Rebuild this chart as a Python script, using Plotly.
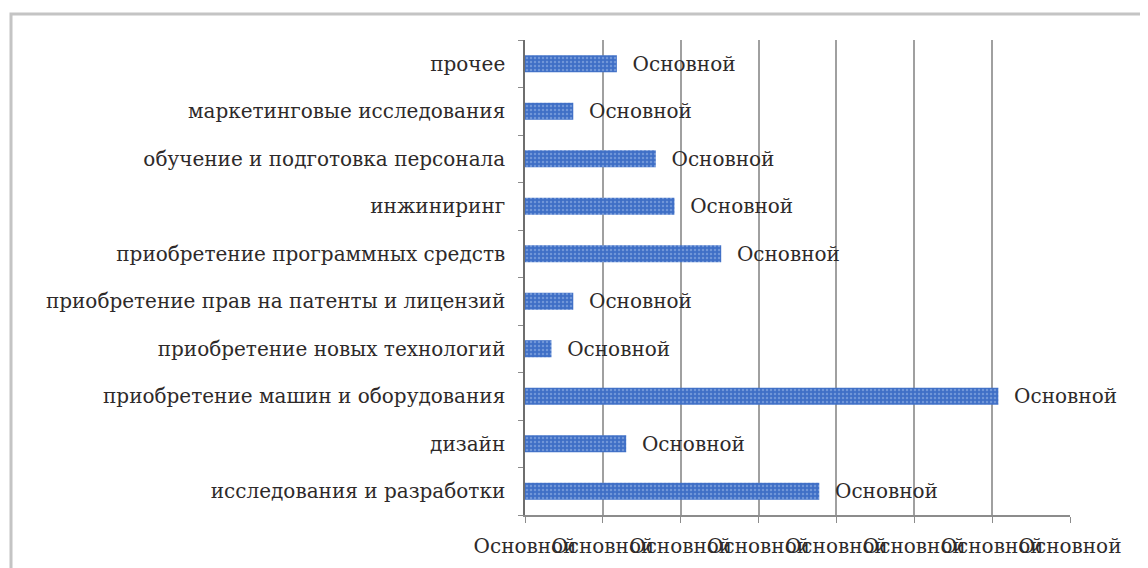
import plotly.graph_objects as go

# categories listed bottom-to-top, as plotly draws horizontal bars
categories = [
    "исследования и разработки",
    "дизайн",
    "приобретение машин и оборудования",
    "приобретение новых технологий",
    "приобретение прав на патенты и лицензий",
    "приобретение программных средств",
    "инжиниринг",
    "обучение и подготовка персонала",
    "маркетинговые исследования",
    "прочее",
]
values = [18.9, 6.5, 30.4, 1.7, 3.1, 12.6, 9.6, 8.4, 3.1, 5.9]
bar_labels = ["Основной"] * len(categories)
x_tickvals = [0, 5, 10, 15, 20, 25, 30, 35]
x_ticktext = ["Основной"] * len(x_tickvals)

# the page body adds an 8px offset, so pixel targets are shifted by -8
W, H = 1148, 568
L, R, T, B = 517, 86, 32, 61
FONT = "DejaVu Serif"
FSIZE = 20
TXT = "#2e2a2a"

fig = go.Figure()

fig.add_trace(
    go.Bar(
        y=categories,
        x=values,
        orientation="h",
        text=bar_labels,
        texttemplate="\u00a0\u00a0%{text}",
        textposition="outside",
        constraintext="none",
        cliponaxis=False,
        textfont=dict(family=FONT, size=FSIZE, color=TXT),
        marker=dict(
            color="#3f6fc6",
            line=dict(width=0),
            pattern=dict(shape=".", fgcolor="#9fbbe9", size=4, solidity=0.3),
        ),
        showlegend=False,
    ))

# outer chart frame (pixel positions converted to paper coords)
def px_x(p):
    return (p - L) / (W - L - R)

def px_y(p):
    return 1 - (p - T) / (H - T - B)

fig.add_shape(
    type="rect", xref="paper", yref="paper",
    x0=px_x(3), x1=px_x(1160), y0=px_y(6), y1=px_y(580),
    line=dict(color="#c4c4c4", width=3), layer="below",
)

fig.update_layout(
    width=W,
    height=H,
    margin=dict(l=L, r=R, t=T, b=B, autoexpand=False),
    paper_bgcolor="white",
    plot_bgcolor="white",
    bargap=0.64,
    font=dict(family=FONT, size=FSIZE, color=TXT),
    xaxis=dict(
        range=[0, 35],
        tickvals=x_tickvals,
        ticktext=x_ticktext,
        tickangle=0,
        showgrid=True,
        gridcolor="#a0a0a0",
        gridwidth=1.5,
        showline=True,
        linecolor="#8c8c8c",
        linewidth=1.5,
        ticks="outside",
        ticklen=6,
        tickcolor="#8c8c8c",
        zeroline=False,
        automargin=False,
        ticklabelstandoff=6,
        tickfont=dict(family=FONT, size=FSIZE, color=TXT),
    ),
    yaxis=dict(
        type="category",
        showline=True,
        linecolor="#6e6e6e",
        linewidth=1.5,
        ticks="outside",
        tickson="boundaries",
        ticklen=5,
        tickcolor="#8c8c8c",
        showgrid=False,
        automargin=False,
        ticklabelstandoff=14,
        tickfont=dict(family=FONT, size=FSIZE, color=TXT),
    ),
)

fig.write_html("out.html")
